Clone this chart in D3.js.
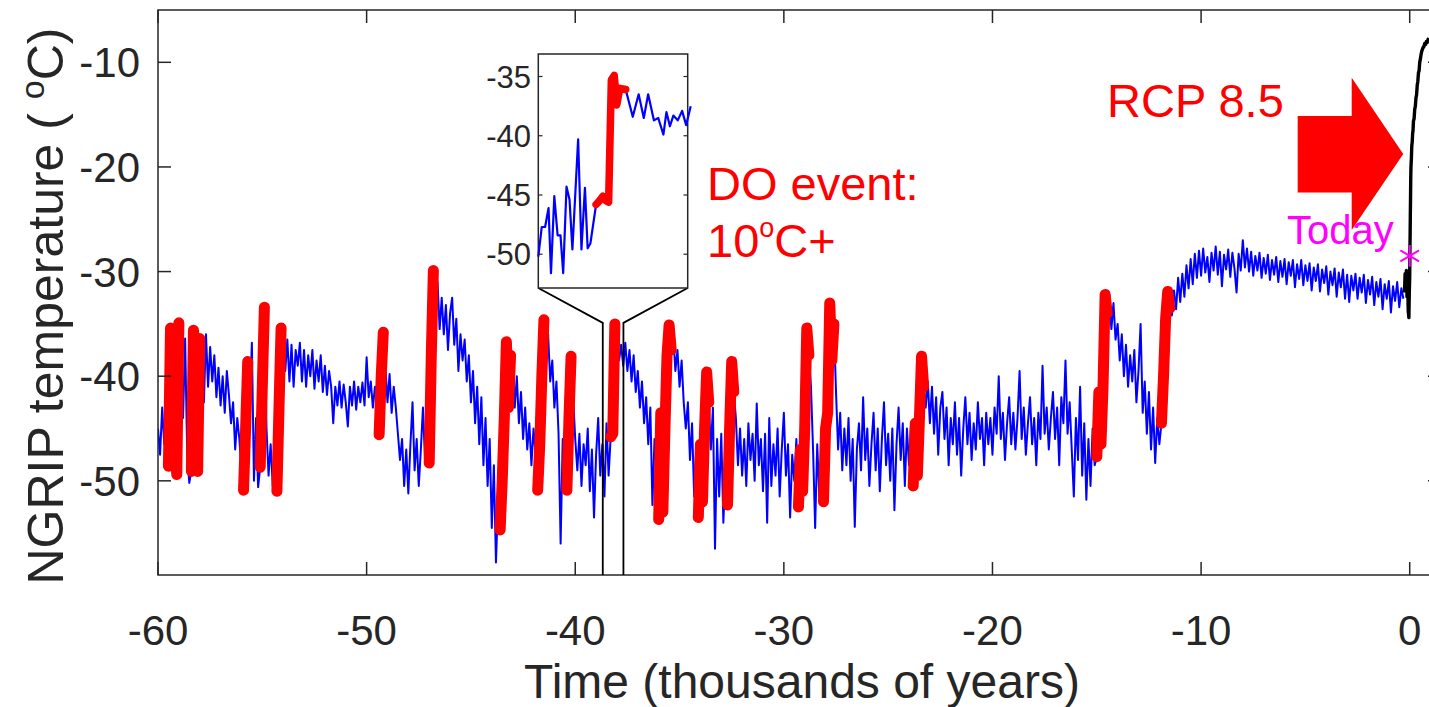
<!DOCTYPE html>
<html>
<head>
<meta charset="utf-8">
<script src="https://cdn.jsdelivr.net/npm/d3@7"></script>
<style>
  body { margin: 0; background: #fff; }
  svg { display: block; font-family: "Liberation Sans", Arial, Helvetica, sans-serif; }
</style>
</head>
<body>
<svg id="chart" width="1429" height="707"></svg>
<script>
// NGRIP temperature (degC), one value every 0.1 kyr starting at -60 kyr
var startKyr = -60, stepKyr = 0.1;
var ngrip60 = [-45.0,-47.5,-43.0,-46.5,-44.0,-48.6,-35.4,-41.5,-46.0,-49.4,
    -34.9,-38.0,-44.0,-36.4,-47.5,-50.2,-49.1,-35.6,-44.0,-49.1,
    -36.4,-39.0,-42.5,-36.0,-41.0,-37.2,-40.5,-38.0,-42.0,-39.2,
    -42.8,-40.0,-43.5,-39.5,-41.8,-44.5,-42.5,-47.0,-44.0,-46.0,
    -49.0,-50.9,-45.0,-38.6,-43.0,-36.8,-50.0,-44.0,-50.6,-48.7,
    -41.0,-33.4,-45.0,-49.5,-46.5,-50.5,-47.0,-51.0,-43.0,-35.4,
    -35.0,-39.5,-36.5,-40.5,-37.0,-41.0,-37.5,-39.0,-36.8,-40.5,
    -37.5,-41.0,-38.0,-40.0,-37.5,-41.2,-38.5,-40.5,-38.0,-41.5,
    -39.0,-41.8,-39.5,-41.0,-44.5,-41.0,-42.8,-40.5,-43.0,-40.8,
    -42.5,-44.8,-41.0,-42.8,-40.5,-43.2,-41.0,-42.5,-40.6,-42.8];
var ngrip50 = [-38.2,-42.0,-40.5,-43.0,-41.0,-42.0,-45.6,-40.0,-35.8,-39.0,
    -42.5,-39.8,-43.5,-41.0,-43.0,-45.5,-48.0,-46.0,-50.5,-47.0,
    -51.2,-46.5,-42.5,-49.0,-46.0,-50.5,-47.0,-43.0,-48.0,-46.0,
    -48.3,-38.0,-29.9,-33.0,-31.0,-35.5,-32.5,-36.0,-33.2,-37.5,
    -34.0,-32.5,-37.0,-34.5,-39.5,-36.0,-38.5,-36.5,-40.5,-38.0,
    -42.5,-39.5,-44.5,-41.0,-46.5,-42.0,-48.5,-44.0,-50.5,-46.0,
    -54.5,-48.5,-57.8,-52.0,-54.7,-50.0,-44.0,-36.7,-43.0,-38.0,
    -38.5,-43.0,-40.0,-44.5,-41.5,-46.0,-43.0,-47.0,-44.5,-48.5,
    -45.0,-47.5,-50.9,-46.5,-40.0,-34.6,-38.0,-36.0,-40.5,-38.5,
    -43.0,-40.5,-45.5,-56.0,-46.0,-49.5,-50.9,-44.0,-38.1,-42.0];
var ngrip40 = [-46.0,-49.0,-45.5,-50.5,-46.5,-48.5,-45.0,-51.0,-47.0,-53.5,
    -47.5,-44.0,-49.5,-46.5,-51.5,-44.5,-49.5,-45.8,-45.5,-35.0,
    -36.2,-38.5,-37.0,-39.0,-36.8,-39.5,-37.5,-40.5,-38.0,-41.5,
    -39.5,-43.0,-40.5,-44.5,-42.0,-46.5,-43.0,-52.3,-46.0,-49.0,
    -53.7,-43.5,-53.0,-45.0,-38.0,-35.1,-37.5,-36.0,-39.5,-37.5,
    -41.0,-38.5,-42.5,-45.0,-42.5,-48.0,-44.5,-51.5,-47.0,-53.5,
    -46.5,-52.0,-45.0,-39.6,-42.5,-47.0,-43.0,-56.5,-46.0,-51.5,
    -45.5,-54.0,-49.0,-52.3,-45.0,-38.6,-41.5,-44.0,-48.5,-45.0,
    -49.5,-46.0,-50.5,-44.5,-48.0,-45.5,-50.0,-42.6,-48.5,-46.0,
    -51.0,-45.5,-54.0,-44.0,-50.5,-46.5,-49.5,-45.0,-51.5,-47.0];
var ngrip30 = [-43.5,-49.5,-46.5,-53.5,-47.5,-50.0,-46.0,-52.5,-47.0,-51.0,
    -45.0,-35.4,-38.0,-41.0,-47.0,-54.5,-46.5,-51.5,-49.0,-52.0,
    -45.0,-43.5,-33.0,-38.5,-35.0,-41.5,-47.0,-43.5,-49.0,-45.0,
    -48.5,-44.0,-50.0,-46.0,-54.4,-47.0,-44.5,-49.0,-42.0,-48.0,
    -45.0,-50.5,-46.5,-43.5,-49.0,-45.0,-51.0,-46.0,-42.5,-48.5,
    -45.5,-50.0,-45.0,-52.8,-46.5,-43.0,-48.0,-44.5,-50.5,-45.0,
    -48.5,-44.5,-50.5,-44.5,-49.5,-44.0,-38.1,-41.0,-43.0,-40.5,
    -44.5,-41.0,-45.5,-42.0,-47.5,-43.0,-41.5,-46.0,-43.0,-48.5,
    -44.0,-46.5,-42.5,-47.5,-44.0,-49.5,-45.0,-42.0,-46.5,-43.5,
    -48.0,-44.5,-47.0,-42.5,-46.0,-44.0,-48.5,-43.5,-46.5,-44.0];
var ngrip20 = [-47.5,-43.0,-45.5,-40.0,-46.0,-43.5,-48.0,-44.5,-42.0,-46.5,
    -43.5,-47.0,-44.0,-39.5,-46.0,-43.0,-47.5,-44.5,-42.0,-46.5,
    -44.0,-48.5,-43.5,-46.0,-39.0,-45.5,-43.0,-47.0,-44.0,-41.5,
    -46.0,-43.0,-48.5,-42.0,-44.5,-38.5,-45.5,-42.5,-47.0,-51.5,
    -44.0,-48.0,-41.0,-49.5,-44.5,-51.8,-46.0,-50.5,-45.0,-48.5,
    -47.7,-41.5,-46.5,-41.0,-32.2,-34.0,-32.2,-35.5,-33.0,-36.5,
    -35.0,-38.5,-36.0,-40.0,-37.0,-41.0,-38.0,-40.5,-37.5,-42.5,
    -39.5,-35.0,-43.5,-40.5,-45.5,-41.5,-47.0,-43.0,-48.3,-44.0,
    -46.5,-44.5,-40.0,-34.5,-31.9,-33.5,-34.2,-31.8,-33.6,-30.6,
    -32.9,-30.2,-32.4,-29.4,-31.6,-28.8,-31.2,-28.3,-30.6,-28.0];
var ngrip10 = [-30.4,-27.8,-30.1,-28.6,-31.0,-28.2,-29.9,-27.6,-30.3,-28.1,
    -31.4,-28.4,-29.8,-27.9,-30.5,-28.2,-29.7,-32.0,-28.3,-29.9,
    -27.0,-29.6,-27.8,-30.0,-28.1,-30.4,-28.5,-29.9,-28.2,-30.6,
    -28.7,-30.2,-28.4,-30.8,-28.9,-30.3,-28.6,-31.0,-29.0,-30.5,
    -28.8,-31.2,-29.1,-30.4,-28.9,-31.5,-29.3,-30.7,-28.9,-31.3,
    -29.4,-30.9,-29.2,-31.8,-29.6,-30.9,-29.3,-31.9,-29.8,-31.1,
    -29.5,-32.2,-30.0,-31.3,-29.7,-32.4,-30.1,-31.5,-29.8,-32.6,
    -30.3,-32.9,-30.4,-31.8,-30.2,-32.6,-30.6,-32.0,-30.3,-33.0,
    -30.8,-32.2,-30.5,-33.2,-31.0,-32.4,-30.7,-33.6,-31.2,-32.6,
    -30.9,-33.9,-31.4,-32.8,-31.0,-33.4,-31.6,-32.6];

// Dansgaard-Oeschger warming jumps, [start, end] in kyr
var doEvents = [[-59.5,-59.0],[-58.4,-58.0],
    [-55.9,-55.7],[-55.1,-54.9],[-54.3,-54.1],[-49.4,-49.2],[-47.0,-46.8],
    [-43.6,-43.1],[-41.8,-41.5],[-40.4,-40.2],[-38.3,-38.1],[-36.0,-35.4],
    [-34.1,-33.6],[-32.7,-32.4],[-29.3,-28.8],[-28.1,-27.6],[-23.8,-23.3],
    [-15.0,-14.5],[-11.9,-11.5]];

// zoomed inset around the DO event near -38 kyr
var insetYears = [-38.680,-38.657,-38.635,-38.612,-38.596,-38.574,-38.552,-38.533,-38.515,-38.493,
    -38.473,-38.454,-38.416,-38.394,-38.371,-38.353,-38.335,-38.297,-38.275,-38.252,
    -38.230,-38.214,-38.196,-38.177,-38.160,-38.140,-38.101,-38.054,-38.015,-37.981,
    -37.952,-37.914,-37.885,-37.851,-37.831,-37.808,-37.785,-37.756,-37.727,-37.700,-37.670];
var insetTemps = [-50.2,-47.7,-47.7,-46.1,-51.6,-45.1,-48.4,-48.4,-51.6,-44.3,
    -45.4,-49.6,-40.3,-49.6,-44.4,-49.5,-49.1,-45.8,-45.5,-45.1,
    -45.5,-45.6,-35.3,-34.9,-37.4,-36.0,-36.1,-38.4,-36.5,-38.5,
    -36.5,-38.7,-38.5,-39.9,-38.0,-39.2,-38.3,-38.7,-37.9,-39.1,-37.5];
var insetEvent = [-38.297, -38.101];

// RCP 8.5 projection (black)
var rcpYears = [-0.25,-0.22,-0.19,-0.16,-0.13,-0.10,-0.07,-0.04,-0.02,0,
    0.01,0.02,0.03,0.04,0.05,0.06,0.08,0.1,0.12,0.14,
    0.16,0.18,0.21,0.24,0.27,0.3,0.33,0.36,0.39,0.42,
    0.45,0.48,0.51,0.54,0.57,0.6,0.64,0.68,0.72,0.76,
    0.8,0.84,0.88,0.92];
var rcpTemps = [-32.0,-30.2,-31.8,-29.9,-32.4,-31.0,-33.8,-34.4,-32.0,-30.5,
    -28.0,-26.5,-24.5,-23.0,-21.0,-20.0,-19.2,-18.0,-17.6,-16.8,
    -16.5,-15.6,-15.4,-14.5,-14.2,-13.4,-13.1,-12.2,-11.8,-11.0,
    -10.8,-10.0,-9.7,-9.3,-9.0,-8.8,-8.6,-8.5,-8.2,-8.3,
    -8.0,-8.1,-7.8,-7.7];
var today = {t: 0, v: -28.5};

var xTicks = [-60, -50, -40, -30, -20, -10, 0];
var yTicks = [-50, -40, -30, -20, -10];
var insetTicks = [-35, -40, -45, -50];

var axisColor = "#262626";
var svg = d3.select("#chart");

var x = d3.scaleLinear().domain([-60, 1.5]).range([158, 1441]);
var y = d3.scaleLinear().domain([-59, -5]).range([575, 10]);

var series = [].concat(ngrip60, ngrip50, ngrip40, ngrip30, ngrip20, ngrip10).map(function(v, i) {
    return {t: Math.round((startKyr + i * stepKyr) * 1000) / 1000, v: v};
});
var rcp = rcpYears.map(function(t, i) { return {t: t, v: rcpTemps[i]}; });

var line = d3.line()
    .x(function(d) { return x(d.t); })
    .y(function(d) { return y(d.v); });

svg.append("defs").append("clipPath").attr("id", "clip")
    .append("rect").attr("x", 158).attr("y", 10).attr("width", 1441 - 158).attr("height", 565);

var plot = svg.append("g").attr("clip-path", "url(#clip)");

plot.append("path")
    .datum(series)
    .attr("fill", "none")
    .attr("stroke", "#0000ff")
    .attr("stroke-width", 2)
    .attr("stroke-linejoin", "round")
    .attr("d", line);

doEvents.forEach(function(e) {
    var seg = series.filter(function(d) { return d.t >= e[0] - 1e-6 && d.t <= e[1] + 1e-6; });
    plot.append("path")
        .datum(seg)
        .attr("fill", "none")
        .attr("stroke", "#ff0000")
        .attr("stroke-width", 11)
        .attr("stroke-linecap", "round")
        .attr("stroke-linejoin", "round")
        .attr("d", line);
});

plot.append("path")
    .datum(rcp)
    .attr("fill", "none")
    .attr("stroke", "#000")
    .attr("stroke-width", 3.4)
    .attr("stroke-linejoin", "round")
    .attr("d", line);

// axes box and inward ticks
svg.append("rect")
    .attr("x", 158).attr("y", 10).attr("width", 1441 - 158).attr("height", 565)
    .attr("fill", "none").attr("stroke", axisColor).attr("stroke-width", 1.5);

var ticks = svg.append("g").attr("stroke", axisColor).attr("stroke-width", 1.5);
xTicks.forEach(function(t) {
    ticks.append("line").attr("x1", x(t)).attr("x2", x(t)).attr("y1", 575).attr("y2", 562);
    ticks.append("line").attr("x1", x(t)).attr("x2", x(t)).attr("y1", 10).attr("y2", 23);
});
yTicks.forEach(function(v) {
    ticks.append("line").attr("x1", 158).attr("x2", 171).attr("y1", y(v)).attr("y2", y(v));
    ticks.append("line").attr("x1", 1441).attr("x2", 1428).attr("y1", y(v)).attr("y2", y(v));
});

svg.selectAll(".xlab").data(xTicks).enter().append("text")
    .attr("x", function(d) { return x(d); })
    .attr("y", 645)
    .attr("text-anchor", "middle")
    .attr("font-size", 42)
    .attr("fill", axisColor)
    .text(function(d) { return d; });

svg.selectAll(".ylab").data(yTicks).enter().append("text")
    .attr("x", 140)
    .attr("y", function(d) { return y(d) + 15; })
    .attr("text-anchor", "end")
    .attr("font-size", 42)
    .attr("fill", axisColor)
    .text(function(d) { return d; });

svg.append("text")
    .attr("x", 802).attr("y", 698)
    .attr("text-anchor", "middle")
    .attr("font-size", 48)
    .attr("fill", axisColor)
    .text("Time (thousands of years)");

var ylab = svg.append("text")
    .attr("transform", "translate(63,306) rotate(-90)")
    .attr("text-anchor", "middle")
    .attr("font-size", 50)
    .attr("fill", axisColor);
ylab.append("tspan").text("NGRIP temperature ( ");
ylab.append("tspan").attr("font-size", 34).attr("dy", -19).text("o");
ylab.append("tspan").attr("dy", 19).text("C)");

// zoom connectors
var insetX = d3.scaleLinear().domain([-38.68, -37.69]).range([538.3, 687.7]);
var insetY = d3.scaleLinear().domain([-52.85, -33.1]).range([288, 54]);
var conn = svg.append("g").attr("fill", "none").attr("stroke", "#000").attr("stroke-width", 1.8);
insetX.domain().forEach(function(t, i) {
    conn.append("polyline").attr("points", [
        [insetX.range()[i], 288],
        [x(t), y(-34.9)],
        [x(t), 575]
    ].map(function(p) { return p.join(","); }).join(" "));
});

// inset
var inset = svg.append("g");
inset.append("rect")
    .attr("x", 538.3).attr("y", 54).attr("width", 687.7 - 538.3).attr("height", 234)
    .attr("fill", "#fff").attr("stroke", axisColor).attr("stroke-width", 1.5);
var insetData = insetYears.map(function(t, i) { return {t: t, v: insetTemps[i]}; });
var insetLine = d3.line()
    .x(function(d) { return insetX(d.t); })
    .y(function(d) { return insetY(d.v); });
inset.append("path")
    .datum(insetData)
    .attr("fill", "none").attr("stroke", "#0000ff").attr("stroke-width", 2.2)
    .attr("stroke-linejoin", "round")
    .attr("d", insetLine);
inset.append("path")
    .datum(insetData.filter(function(d) { return d.t >= insetEvent[0] - 1e-6 && d.t <= insetEvent[1] + 1e-6; }))
    .attr("fill", "none").attr("stroke", "#ff0000").attr("stroke-width", 7.5)
    .attr("stroke-linecap", "round").attr("stroke-linejoin", "round")
    .attr("d", insetLine);
insetTicks.forEach(function(v) {
    inset.append("line").attr("x1", 538.3).attr("x2", 542.5).attr("y1", insetY(v)).attr("y2", insetY(v))
        .attr("stroke", axisColor).attr("stroke-width", 1.2);
    inset.append("line").attr("x1", 687.7).attr("x2", 683.5).attr("y1", insetY(v)).attr("y2", insetY(v))
        .attr("stroke", axisColor).attr("stroke-width", 1.2);
    inset.append("text")
        .attr("x", 531).attr("y", insetY(v) + 11)
        .attr("text-anchor", "end").attr("font-size", 31).attr("fill", axisColor)
        .text(v);
});

// annotations
svg.append("text").attr("x", 707).attr("y", 200).attr("font-size", 47).attr("fill", "#ff0000").text("DO event:");
var doLab = svg.append("text").attr("x", 707).attr("y", 257).attr("font-size", 47).attr("fill", "#ff0000");
doLab.append("tspan").text("10");
doLab.append("tspan").attr("font-size", 27).attr("dy", -20).text("o");
doLab.append("tspan").attr("dy", 20).text("C+");

svg.append("text").attr("x", 1107).attr("y", 117).attr("font-size", 47).attr("fill", "#ff0000").text("RCP 8.5");

var arrow = [[-5.37, -15.13], [-2.78, -15.13], [-2.78, -11.47], [-0.31, -18.76],
    [-2.78, -26.02], [-2.78, -22.45], [-5.37, -22.45]];
svg.append("polygon")
    .attr("points", arrow.map(function(p) { return x(p[0]) + "," + y(p[1]); }).join(" "))
    .attr("fill", "#ff0000");

svg.append("text").attr("x", 1287).attr("y", 244).attr("font-size", 40).attr("fill", "#ff00ff").text("Today");
svg.append("path")
    .attr("transform", "translate(" + x(today.t) + "," + y(today.v) + ")")
    .attr("d", d3.symbol().type(d3.symbolAsterisk).size(330)())
    .attr("fill", "none").attr("stroke", "#ff00ff").attr("stroke-width", 2);
</script>
</body>
</html>
